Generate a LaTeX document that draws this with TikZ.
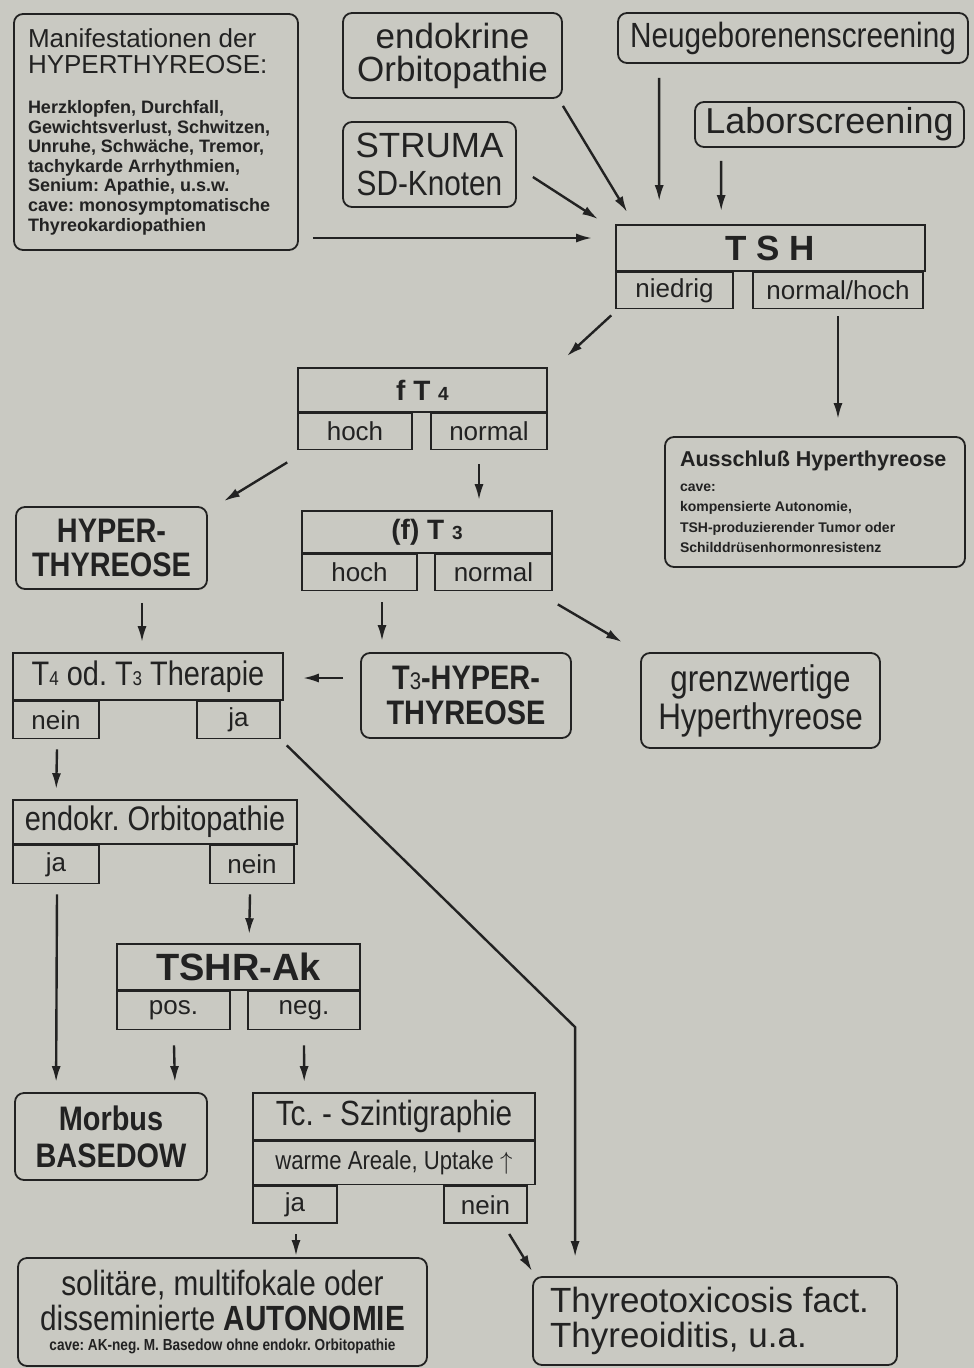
\documentclass[tikz,border=0pt]{standalone}
\usepackage{fontspec}
\setmainfont{Liberation Sans}
\newfontfamily\narrowfont[FakeStretch=0.85]{Liberation Sans}
\usetikzlibrary{positioning}
\usetikzlibrary{calc}
\usetikzlibrary{arrows.meta}

\definecolor{paper}{RGB}{201,201,194}
\definecolor{ink}{RGB}{34,34,34}
\frenchspacing

\begin{document}
\begin{tikzpicture}[
        x=1pt, y=-1pt,
        every node/.style={text=ink, inner sep=0pt},
        round box/.style={draw=ink, line width=1.8pt, rounded corners=9pt, align=center},
        head box/.style={draw=ink, line width=1.6pt},
        sub box/.style={draw=ink, line width=1.6pt, minimum height=36pt, font=\fontsize{26}{26}\selectfont},
        arr/.style={draw=ink, line width=2.4pt, -{Latex[length=16pt,width=9pt]}},
        big narrow/.style={font={\narrowfont\fontsize{35}{35}\selectfont}},
        big bold/.style={font={\narrowfont\fontsize{34}{34}\selectfont\bfseries}},
    ]

    % paper
    \path[use as bounding box, fill=paper] (0,0) rectangle (974,1368);

    % Entry boxes
    \node[round box, minimum width=284pt, minimum height=236pt, text width=256pt, align=left] (manif) at (156,132) {%
        \spaceskip=0pt\xspaceskip=0pt
        {\fontsize{26}{26}\selectfont Manifestationen der\\HYPERTHYREOSE:\par}
        \vspace{20pt}
        {\fontsize{18}{19.6}\selectfont\bfseries Herzklopfen, Durchfall,\\Gewichtsverlust, Schwitzen,\\Unruhe, Schwäche, Tremor,\\tachykarde Arrhythmien,\\Senium: Apathie, u.s.w.\\cave: monosymptomatische\\Thyreokardiopathien\par}};
    \node[round box, font=\fontsize{35}{33}\selectfont, minimum width=219pt, minimum height=85pt] (endo) at (452.5,55.5) {endokrine\\Orbitopathie};
    \node[round box, font=\fontsize{35}{38}\selectfont, minimum width=173pt, minimum height=85pt] (struma) at (429.5,164.5) {STRUMA\\{\narrowfont SD-Knoten}};
    \node[round box, big narrow, minimum width=350pt, minimum height=50pt] (neug) at (793,38) {Neugeborenenscreening};
    \node[round box, font=\fontsize{36}{36}\selectfont, minimum width=269pt, minimum height=45pt] (labor) at (829.5,124.5) {Laborscreening};

    % TSH
    \node[head box, font=\fontsize{35}{35}\selectfont\bfseries, minimum width=309pt, minimum height=46pt] (tsh) at (770.5,248) {T S H};
    \node[sub box, minimum width=117pt, anchor=north west] (tshlow) at (tsh.south west) {niedrig};
    \node[sub box, minimum width=170pt, anchor=north east] (tshhigh) at ([xshift=-2pt]tsh.south east) {normal/hoch};

    \node[round box, minimum width=300pt, minimum height=130pt, text width=270pt, align=left] (aus) at (815,502) {%
        \spaceskip=0pt\xspaceskip=0pt
        {\fontsize{21.5}{22}\selectfont\bfseries Ausschluß Hyperthyreose\par}
        \vspace{4.5pt}
        {\fontsize{14}{20.5}\selectfont\bfseries cave:\\kompensierte Autonomie,\\TSH-produzierender Tumor oder\\Schilddrüsenhormonresistenz\par}};

    % fT4 and (f)T3
    \node[head box, font=\fontsize{28}{28}\selectfont\bfseries, minimum width=249pt, minimum height=44pt] (ft4) at (422.5,390) {f T {\fontsize{19}{19}\selectfont 4}};
    \node[sub box, minimum width=114pt, anchor=north west] (ft4high) at (ft4.south west) {hoch};
    \node[sub box, minimum width=116pt, anchor=north east] (ft4norm) at (ft4.south east) {normal};

    \node[head box, font=\fontsize{28}{28}\selectfont\bfseries, minimum width=250pt, minimum height=42pt] (ft3) at (427,532) {(f) T {\fontsize{19}{19}\selectfont 3}};
    \node[sub box, minimum width=115pt, anchor=north west] (ft3high) at (ft3.south west) {hoch};
    \node[sub box, minimum width=117pt, anchor=north east] (ft3norm) at (ft3.south east) {normal};

    \node[round box, big bold, minimum width=191pt, minimum height=82pt] (hyper) at (111.5,548) {HYPER-\\THYREOSE};
    \node[round box, font={\narrowfont\fontsize{34}{35}\selectfont\bfseries}, minimum width=210pt, minimum height=85pt] (t3hyper) at (466,695.5) {T{\mdseries\fontsize{24}{24}\selectfont 3}-HYPER-\\THYREOSE};
    \node[round box, font={\narrowfont\fontsize{37}{38}\selectfont}, minimum width=239pt, minimum height=95pt] (grenz) at (760.5,700.5) {grenzwertige\\Hyperthyreose};

    % Therapie and Orbitopathie
    \node[head box, font={\narrowfont\fontsize{34}{34}\selectfont}, minimum width=270pt, minimum height=47pt] (ther) at (148,676.5) {T{\fontsize{20}{20}\selectfont 4} od. T{\fontsize{20}{20}\selectfont 3} Therapie};
    \node[sub box, minimum width=86pt, minimum height=37pt, anchor=north west] (thno) at (ther.south west) {nein};
    \node[sub box, minimum width=83pt, minimum height=37pt, anchor=north east] (thyes) at ([xshift=-3pt]ther.south east) {ja};

    \node[head box, font={\narrowfont\fontsize{34}{34}\selectfont}, minimum width=284pt, minimum height=44pt] (orbi) at (155,822) {endokr. Orbitopathie};
    \node[sub box, minimum width=86pt, minimum height=38pt, anchor=north west] (orbiyes) at (orbi.south west) {ja};
    \node[sub box, minimum width=84pt, minimum height=38pt, anchor=north east] (orbino) at ([xshift=-3pt]orbi.south east) {nein};

    \node[head box, font=\fontsize{38}{38}\selectfont\bfseries, minimum width=243pt, minimum height=46pt] (tshr) at (238.5,967) {TSHR-Ak};
    \node[sub box, minimum width=113pt, minimum height=38pt, anchor=north west] (tshrpos) at (tshr.south west) {pos.};
    \node[sub box, minimum width=112pt, minimum height=38pt, anchor=north east] (tshrneg) at (tshr.south east) {neg.};

    % Bottom row
    \node[round box, font={\narrowfont\fontsize{34}{37}\selectfont\bfseries}, minimum width=192pt, minimum height=87pt] (morbus) at (111,1136.5) {Morbus\\BASEDOW};

    \node[head box, big narrow, minimum width=282pt, minimum height=47pt] (tc) at (394,1116.5) {Tc. - Szintigraphie};
    \node[head box, font={\narrowfont\fontsize{26}{26}\selectfont}, minimum width=282pt, minimum height=43pt, anchor=north] (tcline) at (tc.south) {warme Areale, Uptake $\uparrow$};
    \node[sub box, minimum width=84pt, minimum height=37pt, anchor=north west] (tcyes) at (tcline.south west) {ja};
    \node[sub box, minimum width=83pt, minimum height=37pt, anchor=north east] (tcno) at ([xshift=-8pt]tcline.south east) {nein};

    \node[round box, minimum width=409pt, minimum height=108pt, text width=405pt] (solit) at (222.5,1312) {%
        \centering\spaceskip=0pt\xspaceskip=0pt
        {\narrowfont\fontsize{35}{35}\selectfont solitäre, multifokale oder\\disseminierte \textbf{AUTONOMIE}\par}
        \vspace{4pt}
        {\narrowfont\fontsize{16}{16}\selectfont\bfseries cave: AK-neg. M. Basedow ohne endokr. Orbitopathie\par}};
    \node[round box, font=\fontsize{35}{35}\selectfont, minimum width=364pt, minimum height=88pt, text width=330pt, align=left] (thyreo) at (715,1321) {%
        \raggedright\spaceskip=0pt\xspaceskip=0pt
        Thyreotoxicosis fact.\\Thyreoiditis, u.a.};

    % Arrows into TSH
    \draw[arr] ($(manif.east)+(14,106)$) -- ($(tsh.west)+(-23,-10)$);
    \draw[arr] ($(endo.south east)+(0,7)$) -- ($(tsh.north west)+(12,-12)$);
    \draw[arr] ($(struma.east)+(16,12.5)$) -- ($(tsh.north west)+(-17,-5)$);
    \draw[arr] ($(neug.south west)+(42,14)$) -- ($(tsh.north west)+(44,-23)$);
    \draw[arr] ($(labor.south west)+(27,13)$) -- ($(tsh.north west)+(106,-13)$);

    % Arrows out of TSH, fT4, (f)T3
    \draw[arr] ($(tshlow.south west)+(-4,6)$) -- ($(ft4.north east)+(19,-11)$);
    \draw[arr] ($(tshhigh.south)+(0,7)$) -- ($(aus.north)+(23,-17)$);
    \draw[arr] ($(ft4high.south west)+(-10,12)$) -- ($(hyper.north east)+(16,-5)$);
    \draw[arr] ($(ft4norm.south)+(-10,14)$) -- ($(ft3.north)+(52,-10)$);
    \draw[arr] ($(ft3high.south)+(22.5,11)$) -- ($(t3hyper.north)+(-84,-11)$);
    \draw[arr] ($(ft3norm.south east)+(5,13)$) -- ($(grenz.north west)+(-18,-10)$);
    \draw[arr] ($(t3hyper.west)+(-17,-17.5)$) -- ($(ther.east)+(19,1.5)$);
    \draw[arr] ($(hyper.south)+(30.5,13)$) -- ($(ther.north)+(-6,-10)$);

    % Arrows out of Therapie and Orbitopathie
    \draw[arr] ($(thno.south)+(1,10)$) -- ($(orbi.north west)+(44,-10)$);
    \draw[arr] ($(thyes.south east)+(6,6)$) -- ($(thyreo.north west)+(43,-249)$) -- ($(thyreo.north west)+(43,-19)$);
    \draw[arr] ($(orbiyes.south)+(1,10)$) -- ($(morbus.north west)+(42,-10)$);
    \draw[arr] ($(orbino.south)+(-2,10)$) -- ($(tshr.north west)+(133,-9)$);
    \draw[arr] ($(tshrpos.south)+(0.5,15)$) -- ($(morbus.north east)+(-33,-10)$);
    \draw[arr] ($(tshrneg.south)+(0,15)$) -- ($(tc.north west)+(52,-10)$);

    % Arrows out of Szintigraphie
    \draw[arr] ($(tcyes.south)+(1,10)$) -- ($(solit.north)+(73.5,-1)$);
    \draw[arr] ($(tcno.south west)+(66,10)$) -- ($(thyreo.north west)+(0,-5)$);

\end{tikzpicture}
\end{document}
